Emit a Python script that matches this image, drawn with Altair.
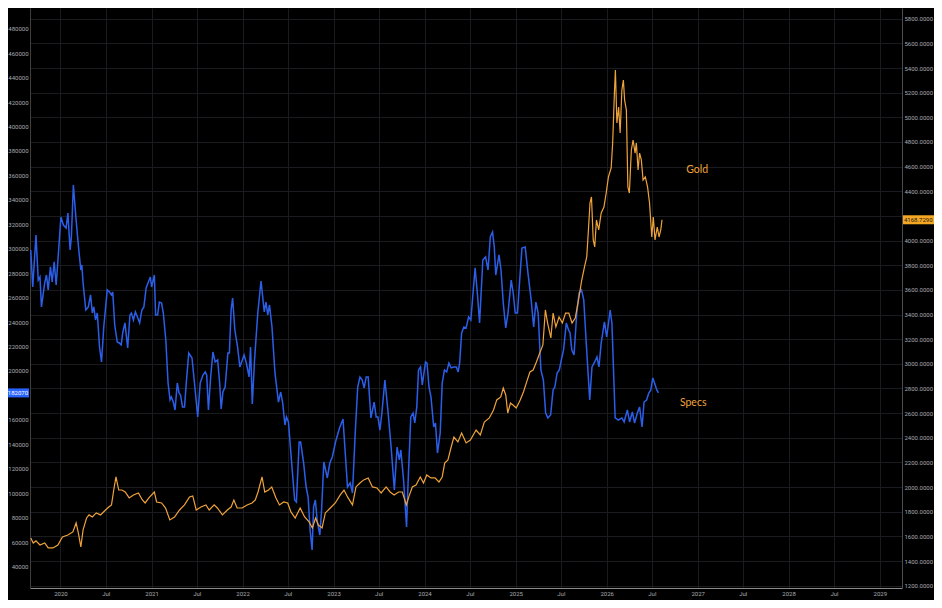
import altair as alt
import pandas as pd

# ---------------- data ----------------
specs_dates = [
    "2019-09-04", "2019-09-12", "2019-09-25", "2019-10-04", "2019-10-11", "2019-10-17", "2019-10-30",
    "2019-11-06", "2019-11-13", "2019-11-22", "2019-11-29", "2019-12-07", "2019-12-15", "2019-12-23",
    "2020-01-03", "2020-01-13", "2020-01-24", "2020-01-31", "2020-02-09", "2020-02-14", "2020-02-22",
    "2020-03-03", "2020-03-10", "2020-03-16", "2020-03-23", "2020-03-27", "2020-04-01", "2020-04-12",
    "2020-04-22", "2020-05-01", "2020-05-08", "2020-05-14", "2020-05-21", "2020-05-28", "2020-06-06",
    "2020-06-14", "2020-06-23", "2020-07-07", "2020-07-16", "2020-07-24", "2020-07-29", "2020-08-06",
    "2020-08-16", "2020-08-24", "2020-09-01", "2020-09-07", "2020-09-16", "2020-09-27", "2020-10-06",
    "2020-10-12", "2020-10-20", "2020-10-28", "2020-11-05", "2020-11-14", "2020-11-23", "2020-12-01",
    "2020-12-10", "2020-12-19", "2020-12-27", "2021-01-01", "2021-01-12", "2021-01-17", "2021-01-25",
    "2021-02-01", "2021-02-10", "2021-02-17", "2021-02-27", "2021-03-08", "2021-03-16", "2021-03-21",
    "2021-03-29", "2021-04-05", "2021-04-14", "2021-04-21", "2021-04-27", "2021-05-05", "2021-05-13",
    "2021-05-21", "2021-05-30", "2021-06-12", "2021-06-22", "2021-07-05", "2021-07-15", "2021-07-26",
    "2021-08-04", "2021-08-10", "2021-08-17", "2021-08-26", "2021-09-04", "2021-09-13", "2021-09-23",
    "2021-10-01", "2021-10-07", "2021-10-14", "2021-10-23", "2021-11-03", "2021-11-09", "2021-11-16",
    "2021-11-22", "2021-12-01", "2021-12-12", "2021-12-21", "2022-01-07", "2022-01-16", "2022-01-27",
    "2022-02-02", "2022-02-09", "2022-02-18", "2022-03-03", "2022-03-16", "2022-03-29", "2022-04-05",
    "2022-04-12", "2022-04-19", "2022-04-29", "2022-05-11", "2022-05-25", "2022-06-03", "2022-06-11",
    "2022-06-20", "2022-06-26", "2022-07-04", "2022-07-16", "2022-07-29", "2022-08-05", "2022-08-16",
    "2022-08-22", "2022-09-03", "2022-09-13", "2022-09-21", "2022-09-29", "2022-10-07", "2022-10-13",
    "2022-10-20", "2022-10-28", "2022-11-07", "2022-11-14", "2022-11-23", "2022-12-07", "2022-12-17",
    "2022-12-27", "2023-01-09", "2023-01-25", "2023-02-08", "2023-02-17", "2023-02-26", "2023-03-09",
    "2023-03-18", "2023-03-29", "2023-04-08", "2023-04-17", "2023-04-26", "2023-05-04", "2023-05-12",
    "2023-05-20", "2023-05-31", "2023-06-13", "2023-06-21", "2023-06-28", "2023-07-06", "2023-07-14",
    "2023-07-26", "2023-08-07", "2023-08-20", "2023-09-02", "2023-09-13", "2023-09-22", "2023-09-28",
    "2023-10-09", "2023-10-21", "2023-10-27", "2023-11-07", "2023-11-16", "2023-11-23", "2023-12-01",
    "2023-12-08", "2023-12-16", "2023-12-23", "2024-01-05", "2024-01-11", "2024-01-19", "2024-01-27",
    "2024-02-07", "2024-02-14", "2024-02-22", "2024-03-04", "2024-03-12", "2024-03-21", "2024-03-30",
    "2024-04-08", "2024-04-17", "2024-04-28", "2024-05-08", "2024-05-15", "2024-05-21", "2024-05-29",
    "2024-06-07", "2024-06-16", "2024-06-26", "2024-07-05", "2024-07-22", "2024-07-31", "2024-08-09",
    "2024-08-22", "2024-09-02", "2024-09-12", "2024-09-21", "2024-09-30", "2024-10-07", "2024-10-13",
    "2024-10-26", "2024-11-03", "2024-11-12", "2024-11-22", "2024-12-01", "2024-12-14", "2024-12-22",
    "2024-12-30", "2025-01-08", "2025-01-17", "2025-01-26", "2025-02-08", "2025-02-19", "2025-03-04",
    "2025-03-14", "2025-03-23", "2025-04-01", "2025-04-12", "2025-04-22", "2025-05-01", "2025-05-10",
    "2025-05-21", "2025-05-31", "2025-06-07", "2025-06-16", "2025-06-25", "2025-07-03", "2025-07-12",
    "2025-07-23", "2025-08-01", "2025-08-07", "2025-08-14", "2025-08-23", "2025-09-03", "2025-09-12",
    "2025-09-22", "2025-10-01", "2025-10-12", "2025-10-25", "2025-11-03", "2025-11-14", "2025-11-23",
    "2025-12-01", "2025-12-10", "2025-12-23", "2026-01-01", "2026-01-15", "2026-01-22", "2026-02-04",
    "2026-02-17", "2026-03-03", "2026-03-12", "2026-03-25", "2026-04-03", "2026-04-14", "2026-04-23",
    "2026-05-04", "2026-05-13", "2026-05-23", "2026-05-31", "2026-06-10", "2026-06-19", "2026-06-27",
    "2026-07-05", "2026-07-12", "2026-07-21", "2026-07-28",
]
specs_values = [
    299000, 268700, 311200, 274400, 276900, 252400, 272000,
    278500, 266300, 285100, 272800, 289200, 270300, 293300,
    326000, 319400, 317000, 329200, 299000, 309600, 352100,
    326000, 309600, 296500, 282600, 286700, 272000, 249900,
    252400, 262200, 247400, 252400, 241700, 247400, 219600,
    207400, 236000, 266300, 264600, 262200, 264600, 237600,
    223700, 222900, 221300, 231100, 239300, 218800, 245800,
    247400, 241700, 248300, 244200, 239300, 249900, 252400,
    267900, 272800, 276900, 268700, 278500, 245800, 245800,
    256400, 255600, 247400, 225400, 190200, 176300, 178700,
    174600, 168100, 190200, 182000, 180400, 170600, 170600,
    192600, 214700, 210600, 190200, 162400, 190200, 196700,
    199200, 196700, 168100, 195100, 215500, 207400, 209000,
    190200, 168900, 182800, 186900, 214700, 214700, 249900,
    259700, 233500, 219600, 203300, 213100, 206500, 195100,
    219600, 173000, 209000, 247400, 273600, 248300, 256400,
    245800, 254000, 236000, 198400, 174600, 182800, 173800,
    155800, 162400, 158300, 127200, 94500, 92800, 141900,
    141900, 124700, 105100, 96900, 69900, 53600, 88800,
    94500, 76500, 65800, 86300, 125600, 112500, 124700,
    129700, 141900, 153400, 160700, 132900, 105100, 108400,
    100200, 149300, 186900, 195100, 192600, 186100, 195100,
    195100, 161600, 174600, 162400, 162400, 151700, 165600,
    192600, 168100, 137800, 102700, 137800, 127200, 135400,
    110800, 72400, 108400, 162400, 165600, 157500, 170600,
    200800, 203300, 188500, 207400, 206500, 186900, 178700,
    154200, 157500, 132900, 149300, 190200, 200800, 199200,
    206500, 202500, 203300, 203300, 199200, 206500, 231100,
    236000, 235200, 244200, 241700, 284300, 263800, 239300,
    290800, 293300, 282600, 309600, 313700, 301400, 278500,
    294900, 282600, 255600, 235200, 247400, 274400, 263800,
    247400, 247400, 274400, 300600, 301400, 280200, 258100,
    236000, 256400, 247400, 200800, 192600, 165600, 161600,
    164000, 184500, 186900, 198400, 200800, 209000, 217200,
    239300, 233500, 231100, 217200, 213100, 247400, 263800,
    266300, 258100, 219600, 176300, 203300, 207400, 211500,
    203300, 222900, 240100, 227800, 249900, 239300, 161600,
    159900, 161600, 158300, 168100, 158300, 166500, 157500,
    165600, 170600, 154200, 174600, 176300, 182000, 184500,
    194300, 190200, 184500, 182070,
]

gold_dates = [
    "2019-09-04", "2019-09-14", "2019-09-25", "2019-10-11", "2019-10-30", "2019-11-13", "2019-12-02",
    "2019-12-22", "2020-01-09", "2020-01-31", "2020-02-20", "2020-03-04", "2020-03-13", "2020-03-23",
    "2020-04-01", "2020-04-15", "2020-04-25", "2020-05-08", "2020-05-24", "2020-06-10", "2020-06-30",
    "2020-07-13", "2020-07-24", "2020-08-02", "2020-08-11", "2020-08-22", "2020-09-04", "2020-09-17",
    "2020-10-03", "2020-10-20", "2020-11-09", "2020-11-25", "2020-12-06", "2020-12-21", "2021-01-12",
    "2021-01-21", "2021-02-10", "2021-02-26", "2021-03-15", "2021-04-03", "2021-04-23", "2021-05-13",
    "2021-06-02", "2021-06-15", "2021-06-29", "2021-07-18", "2021-08-07", "2021-08-20", "2021-09-09",
    "2021-09-22", "2021-10-12", "2021-11-01", "2021-11-16", "2021-11-27", "2021-12-10", "2021-12-30",
    "2022-01-19", "2022-02-08", "2022-02-21", "2022-03-04", "2022-03-20", "2022-03-31", "2022-04-15",
    "2022-04-28", "2022-05-15", "2022-05-29", "2022-06-15", "2022-07-01", "2022-07-14", "2022-07-31",
    "2022-08-20", "2022-09-07", "2022-09-25", "2022-10-08", "2022-10-21", "2022-11-01", "2022-11-16",
    "2022-11-29", "2022-12-19", "2023-01-08", "2023-01-28", "2023-02-12", "2023-02-26", "2023-03-18",
    "2023-04-01", "2023-04-17", "2023-05-02", "2023-05-20", "2023-06-06", "2023-06-24", "2023-07-11",
    "2023-07-31", "2023-08-16", "2023-09-01", "2023-09-19", "2023-10-04", "2023-10-20", "2023-10-30",
    "2023-11-13", "2023-11-28", "2023-12-15", "2023-12-28", "2024-01-10", "2024-01-27", "2024-02-12",
    "2024-02-28", "2024-03-12", "2024-03-22", "2024-04-04", "2024-04-17", "2024-04-28", "2024-05-14",
    "2024-05-29", "2024-06-16", "2024-07-03", "2024-07-26", "2024-08-12", "2024-08-28", "2024-09-17",
    "2024-10-04", "2024-10-17", "2024-11-02", "2024-11-12", "2024-11-22", "2024-11-30", "2024-12-11",
    "2024-12-21", "2025-01-03", "2025-01-19", "2025-02-01", "2025-02-14", "2025-02-27", "2025-03-12",
    "2025-03-25", "2025-04-09", "2025-04-20", "2025-04-30", "2025-05-09", "2025-05-22", "2025-05-31",
    "2025-06-11", "2025-06-24", "2025-07-07", "2025-07-20", "2025-08-02", "2025-08-15", "2025-08-28",
    "2025-09-10", "2025-09-23", "2025-10-04", "2025-10-13", "2025-10-19", "2025-10-26", "2025-11-01",
    "2025-11-08", "2025-11-14", "2025-11-21", "2025-11-30", "2025-12-10", "2025-12-21", "2025-12-30",
    "2026-01-08", "2026-01-19", "2026-01-25", "2026-02-01", "2026-02-05", "2026-02-11", "2026-02-18",
    "2026-02-24", "2026-03-03", "2026-03-09", "2026-03-14", "2026-03-21", "2026-03-27", "2026-04-02",
    "2026-04-10", "2026-04-17", "2026-04-25", "2026-04-30", "2026-05-07", "2026-05-13", "2026-05-20",
    "2026-05-27", "2026-06-05", "2026-06-14", "2026-06-22", "2026-07-01", "2026-07-07", "2026-07-14",
    "2026-07-23", "2026-07-30", "2026-08-06", "2026-08-11",
]
gold_values = [
    1587, 1546, 1563, 1530, 1546, 1506, 1506,
    1530, 1595, 1611, 1636, 1709, 1628, 1514,
    1652, 1749, 1774, 1757, 1790, 1774, 1814,
    1838, 1855, 1976, 2082, 1976, 1976, 1960,
    1912, 1936, 1952, 1895, 1871, 1912, 1960,
    1879, 1871, 1830, 1733, 1757, 1814, 1855,
    1920, 1928, 1814, 1838, 1855, 1814, 1855,
    1830, 1774, 1814, 1838, 1895, 1830, 1830,
    1855, 1871, 1895, 1960, 2082, 1960, 1976,
    2001, 1912, 1855, 1879, 1871, 1798, 1749,
    1830, 1757, 1717, 1668, 1749, 1692, 1668,
    1790, 1830, 1871, 1936, 1976, 1920, 1855,
    2001, 2033, 2058, 2074, 2001, 1993, 1952,
    2001, 1960, 1936, 1960, 1960, 1855, 1920,
    2001, 2017, 2082, 2033, 2098, 2074, 2074,
    2041, 2082, 2195, 2220, 2325, 2406, 2366,
    2439, 2358, 2382, 2463, 2423, 2528, 2561,
    2625, 2707, 2731, 2804, 2747, 2601, 2682,
    2666, 2642, 2707, 2771, 2853, 2934, 2950,
    3015, 3096, 3153, 3437, 3331, 3210, 3412,
    3299, 3380, 3331, 3412, 3412, 3331, 3372,
    3518, 3680, 3786, 3867, 4061, 4305, 4354,
    4005, 3948, 4167, 4086, 4224, 4272, 4386,
    4516, 4589, 4792, 5197, 5384, 4954, 5084,
    4873, 5222, 5303, 5140, 5059, 4435, 4386,
    4735, 4816, 4710, 4792, 4573, 4710, 4654,
    4491, 4516, 4435, 4305, 4029, 4191, 4005,
    4110, 4029, 4086, 4168.729,
]

label_text = ["Gold", "Specs"]
label_dates = ["2026-12-30", "2026-12-14"]
label_values = [4573, 173800]

x_domain = ["2019-09-01", "2029-03-31"]
gold_domain = [1181, 5887]
specs_domain = [22500, 496900]
x_tick_dates = [f"{y}-{m}-01" for y in range(2020, 2030) for m in ("01", "07")][:-1]
gold_ticks = list(range(1200, 5801, 200))
specs_ticks = list(range(40000, 480001, 20000))

# ---------------- styling ----------------
BG = "#000000"
GRID = "#191b1f"
LABEL = "#a9abb0"
BLUE = "#2b5fea"
ORANGE = "#f0a33a"
FONT = "Roboto"
FS = 6


def to_ms(s):
    return int(pd.Timestamp(s, tz="UTC").value // 10**6)


x_scale = alt.Scale(type="utc", domain=[to_ms(d) for d in x_domain])
specs_scale = alt.Scale(domain=specs_domain, nice=False, zero=False)
gold_scale = alt.Scale(domain=gold_domain, nice=False, zero=False)

specs_df = pd.DataFrame({"date": specs_dates, "specs": specs_values})
gold_df = pd.DataFrame({"date": gold_dates, "gold": gold_values})
specs_lab_df = pd.DataFrame({"date": [label_dates[1]], "specs": [label_values[1]], "t": [label_text[1]]})
gold_lab_df = pd.DataFrame({"date": [label_dates[0]], "gold": [label_values[0]], "t": [label_text[0]]})
specs_last_df = pd.DataFrame({"specs": [specs_values[-1]]})
gold_last_df = pd.DataFrame({"gold": [gold_values[-1]]})

x_axis = alt.Axis(
    values=[to_ms(d) for d in x_tick_dates],
    labelExpr="utcmonth(datum.value) == 0 ? utcFormat(datum.value, '%Y') : 'Jul'",
    grid=True, gridColor=GRID, ticks=False, domainColor="#8a8a8a", domainWidth=1,
    labelColor=LABEL, labelFontSize=FS, labelPadding=2, title=None,
    labelOverlap=False, labelFlush=False,
)
# the tick label hidden behind the last-value badge is left blank
specs_axis = alt.Axis(
    orient="left", values=specs_ticks,
    labelExpr=f"abs(datum.value - {specs_values[-1]}) < 8000 ? '' : format(datum.value, 'd')",
    grid=False, ticks=False,
    domainColor="#3c3e42", labelColor=LABEL, labelFontSize=FS, labelPadding=2,
    title=None, labelOverlap=False,
)
gold_axis = alt.Axis(
    orient="right", values=gold_ticks,
    labelExpr=f"abs(datum.value - {gold_values[-1]}) < 80 ? '' : format(datum.value, '.4f')",
    grid=True, gridColor=GRID,
    ticks=False, domainColor="#4a4c50", labelColor=LABEL, labelFontSize=FS,
    labelPadding=2, title=None, labelOverlap=False,
)

X = alt.X("date:T", scale=x_scale, axis=x_axis)
Y_SPECS = alt.Y("specs:Q", scale=specs_scale, axis=specs_axis)
Y_GOLD = alt.Y("gold:Q", scale=gold_scale, axis=gold_axis)

# ---- specs group (left axis) ----
specs_line = alt.Chart(specs_df).mark_line(color=BLUE, strokeWidth=1.5, clip=True).encode(x=X, y=Y_SPECS)
specs_label = alt.Chart(specs_lab_df).mark_text(color=ORANGE, fontSize=10.5, font="Lato").encode(
    x=X, y=Y_SPECS, text="t:N"
)
specs_box = alt.Chart(specs_last_df).mark_rule(color="#2962ff", strokeWidth=9, strokeCap="butt").encode(
    x=alt.value(-22), x2=alt.value(-1), y=Y_SPECS
)
specs_box_text = alt.Chart(specs_last_df).mark_text(
    align="right", baseline="middle", color="#ffffff", fontSize=FS, font=FONT
).encode(x=alt.value(-2), y=Y_SPECS, text=alt.Text("specs:Q", format="d"))
specs_group = alt.layer(specs_line, specs_label, specs_box, specs_box_text)

# ---- gold group (right axis) ----
gold_line = alt.Chart(gold_df).mark_line(color=ORANGE, strokeWidth=1.2, clip=True).encode(x=X, y=Y_GOLD)
gold_label = alt.Chart(gold_lab_df).mark_text(color=ORANGE, fontSize=10.5, font="Lato").encode(
    x=X, y=Y_GOLD, text="t:N"
)
gold_box = alt.Chart(gold_last_df).mark_rule(color="#f5a623", strokeWidth=9, strokeCap="butt").encode(
    x=alt.value(873), x2=alt.value(904), y=Y_GOLD
)
gold_box_text = alt.Chart(gold_last_df).mark_text(
    align="left", baseline="middle", color="#1a1a1a", fontSize=FS, font=FONT
).encode(x=alt.value(874), y=Y_GOLD, text=alt.Text("gold:Q", format=".4f"))
gold_group = alt.layer(gold_line, gold_label, gold_box, gold_box_text)

chart = (
    alt.layer(specs_group, gold_group)
    .resolve_scale(y="independent")
    .properties(
        width=872, height=580,
        autosize=alt.AutoSizeParams(type="none"),
        padding={"left": 22, "top": 0, "right": 32, "bottom": 12},
        background=BG,
    )
    .configure_view(stroke=None)
    .configure_axis(labelFont=FONT)
)

chart.save("out.html", embed_options={"renderer": "svg", "actions": False})
